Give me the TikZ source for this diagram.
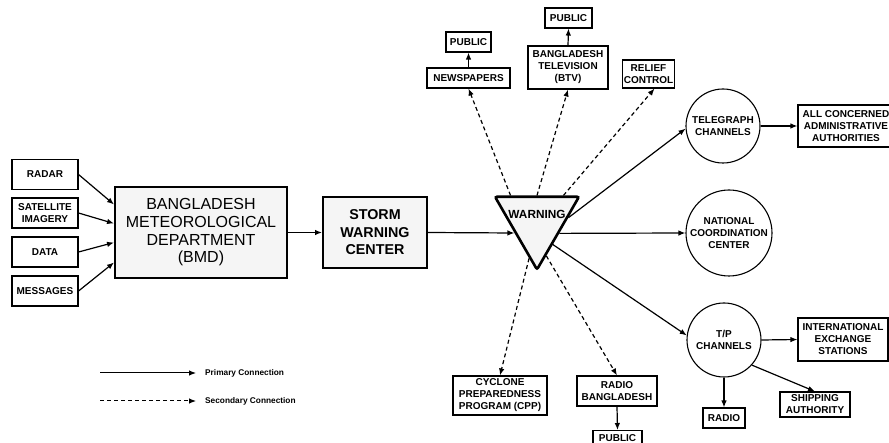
\documentclass[tikz,border=0pt]{standalone}
\usepackage{fontspec}
\setmainfont{Liberation Sans}
\usetikzlibrary{arrows.meta,shapes.geometric,calc}
\begin{document}
\begin{tikzpicture}[x=1pt,y=-1pt,
  pri/.style={line width=1.2pt,-{Latex[length=7pt,width=5.5pt]}},
  sec/.style={pri,dash pattern=on 4pt off 3pt},
  sbox/.style={draw,line width=1.1pt,align=center,inner sep=1pt,
    font=\bfseries\fontsize{10}{12}\selectfont},
  bigbox/.style={draw,line width=2pt,fill=black!4,align=center,inner sep=1pt},
  circ/.style={draw,circle,line width=1.1pt,align=center,inner sep=0pt,
    font=\bfseries\fontsize{10}{12}\selectfont},
  legtext/.style={anchor=west,inner sep=0pt,font=\bfseries\fontsize{8.3}{9}\selectfont}]
\useasboundingbox (0,0) rectangle (889,443);
\clip (0,0) rectangle (889,443);
% input boxes
\node[sbox,minimum width=66pt,minimum height=30pt] (radar) at (45,174.5) {RADAR};
\node[sbox,minimum width=66pt,minimum height=30pt] (sat) at (45,213) {SATELLITE\\IMAGERY};
\node[sbox,minimum width=66pt,minimum height=30pt] (data) at (45,252) {DATA};
\node[sbox,minimum width=66pt,minimum height=30pt] (msg) at (45,291) {MESSAGES};
% BMD
\node[bigbox,minimum width=172pt,minimum height=91pt,
  font=\fontsize{16}{17.7}\selectfont] (bmd) at (201,232.5)
  {BANGLADESH\\METEOROLOGICAL\\DEPARTMENT\\(BMD)};
% storm warning center
\node[bigbox,minimum width=104pt,minimum height=71pt,
  font=\bfseries\fontsize{14.3}{17.5}\selectfont] (swc) at (375,232.5)
  {STORM\\WARNING\\CENTER};
% warning triangle
\node[draw,regular polygon,regular polygon sides=3,shape border rotate=180,
  minimum size=97pt,inner sep=0pt,line width=2.6pt,rounded corners=2pt,
  fill=black!4] (W) at (537,221) {};
\node[font=\bfseries\fontsize{11.8}{12}\selectfont,inner sep=0pt] (wtxt) at (537,214) {WARNING};
% top nodes
\node[sbox,minimum width=83pt,minimum height=20pt] (np) at (468.5,78) {NEWSPAPERS};
\node[sbox,minimum width=45pt,minimum height=20pt] (pub1) at (468.5,42) {PUBLIC};
\node[sbox,minimum width=80pt,minimum height=43pt] (btv) at (568,67.5) {BANGLADESH\\TELEVISION\\(BTV)};
\node[sbox,minimum width=47pt,minimum height=20pt] (pub2) at (568.5,18) {PUBLIC};
\node[sbox,minimum width=47pt,minimum height=28pt] (rc) at (648.5,74) {RELIEF\\CONTROL};
% right nodes
\node[circ,minimum size=74pt] (tel) at (723,126) {TELEGRAPH\\CHANNELS};
\node[sbox,minimum width=96pt,minimum height=42pt] (aca) at (846,126) {ALL CONCERNED\\ADMINISTRATIVE\\AUTHORITIES};
\node[circ,minimum size=86pt] (ncc) at (729,233) {NATIONAL\\COORDINATION\\CENTER};
\node[circ,minimum size=74pt] (tp) at (724,340) {T/P\\CHANNELS};
\node[sbox,minimum width=90pt,minimum height=43pt] (ies) at (843,339.5) {INTERNATIONAL\\EXCHANGE\\STATIONS};
\node[sbox,minimum width=70pt,minimum height=25pt] (ship) at (815,404.5) {SHIPPING\\AUTHORITY};
\node[sbox,minimum width=42pt,minimum height=20pt] (radio) at (724,418) {RADIO};
% bottom nodes
\node[sbox,minimum width=94pt,minimum height=39pt] (cpp) at (500,395.5) {CYCLONE\\PREPAREDNESS\\PROGRAM (CPP)};
\node[sbox,minimum width=80pt,minimum height=30pt] (rb) at (617,391) {RADIO\\BANGLADESH};
\node[sbox,minimum width=49pt,minimum height=15pt,anchor=north] (pub3) at (617.5,430) {PUBLIC};
% primary connections
\draw[pri] (radar.east) -- ([yshift=28pt]bmd.west);
\draw[pri] (sat.east) -- ([yshift=9pt]bmd.west);
\draw[pri] (data.east) -- ([yshift=-10pt]bmd.west);
\draw[pri] (msg.east) -- ([yshift=-30pt]bmd.west);
\draw[pri] (bmd.east) -- (swc.west);
\draw[pri] (swc.east) -- (W.208);
\draw[pri] (np.north) -- (pub1.south);
\draw[pri] (btv.north) -- (pub2.south);
\draw[pri] (W.6) -- (tel.184);
\draw[pri] (tel.east) -- (aca.west);
\draw[pri] (W.-29) -- (ncc.west);
\draw[pri] (W.-56) -- (tp.173);
\draw[pri] (tp.east) -- (ies.west);
\draw[pri] (tp.-42) -- (ship.north);
\draw[pri] (tp.south) -- (radio.north);
\draw[pri] (rb.south) -- (pub3.north);
% secondary connections
\draw[sec] (W.136) -- (np.south);
\draw[sec] (W.90) -- (btv.south);
\draw[sec] (W.44) -- ([xshift=6pt]rc.south);
\draw[sec] (W.258) -- (cpp.north);
\draw[sec] (W.-75) -- (rb.north);
% legend
\coordinate (l1s) at (100,373);
\coordinate (l1e) at (196,373);
\coordinate (l2s) at (100,401);
\coordinate (l2e) at (196,401);
\node[legtext] (leg1) at (205,373) {Primary Connection};
\node[legtext] (leg2) at (205,401) {Secondary Connection};
\draw[pri,line width=1pt] (l1s) -- (l1e);
\draw[sec,line width=1pt] (l2s) -- (l2e);
\end{tikzpicture}
\end{document}
